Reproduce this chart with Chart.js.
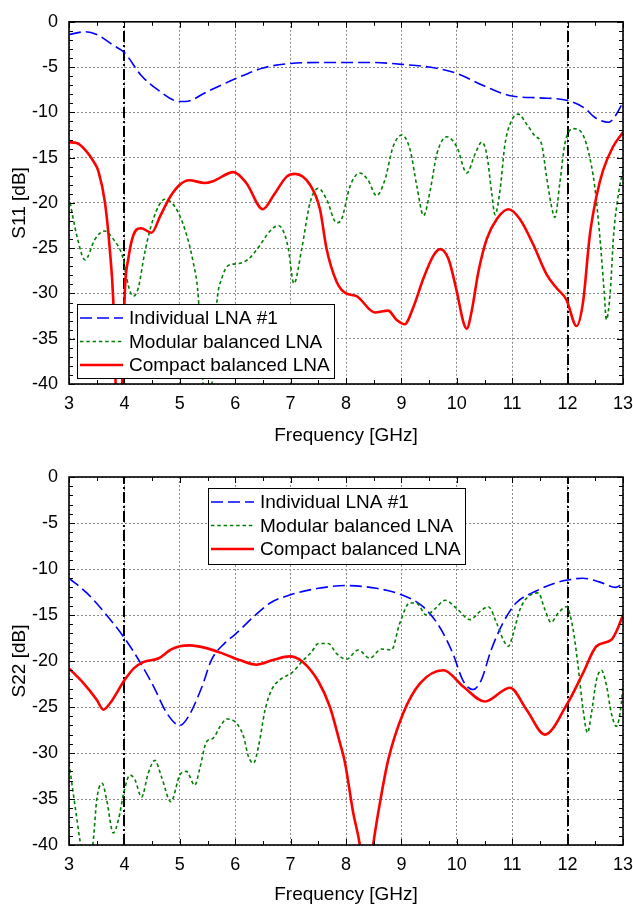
<!DOCTYPE html>
<html>
<head>
<meta charset="utf-8">
<script src="https://cdn.jsdelivr.net/npm/chart.js@4.4.1/dist/chart.umd.min.js"></script>
<style>
  html, body { margin: 0; padding: 0; background: #fff; }
  canvas { display: block; }
</style>
</head>
<body>
<canvas id="s11Chart" width="633" height="453"></canvas>
<canvas id="s22Chart" width="633" height="454"></canvas>
<script>
// axis ticks and band markers
var xTicks = [3, 4, 5, 6, 7, 8, 9, 10, 11, 12, 13];
var yTicks = [-40, -35, -30, -25, -20, -15, -10, -5, 0];
var bandEdges = [4, 12];
var seriesNames = ['Individual LNA #1', 'Modular balanced LNA', 'Compact balanced LNA'];

// S11 - individual LNA
var s11IndFreq = [3, 3.3, 3.5, 3.8, 4, 4.3, 4.6, 5, 5.1, 5.5, 6, 6.5, 7, 7.5, 8, 8.5, 9, 9.5, 10, 10.5, 11, 11.5, 12, 12.3, 12.5, 12.74, 12.85, 13];
var s11IndDb = [-1.4, -1.1, -1.4, -2.6, -3.4, -5.9, -7.5, -8.8, -8.8, -7.7, -6.3, -5.1, -4.6, -4.5, -4.5, -4.5, -4.7, -5.0, -5.7, -7.1, -8.2, -8.4, -8.7, -9.5, -10.6, -11.1, -10.5, -8.9];

// S11 - modular balanced LNA
var s11ModFreq = [3.0, 3.14, 3.29, 3.47, 3.64, 3.80, 3.98, 4.07, 4.16, 4.25, 4.37, 4.52, 4.73, 4.91, 5.09, 5.24, 5.33, 5.42, 5.5, 5.58, 5.67, 5.76, 5.88, 6.06, 6.24, 6.42, 6.63, 6.78, 6.90, 6.96, 7.06, 7.2, 7.35, 7.50, 7.65, 7.83, 7.92, 8.07, 8.25, 8.40, 8.55, 8.70, 8.85, 9.01, 9.16, 9.28, 9.40, 9.52, 9.64, 9.82, 10.0, 10.18, 10.33, 10.45, 10.54, 10.63, 10.69, 10.78, 10.87, 10.99, 11.11, 11.26, 11.41, 11.53, 11.62, 11.71, 11.77, 11.86, 11.95, 12.10, 12.25, 12.37, 12.49, 12.58, 12.66, 12.70, 12.77, 12.83, 12.92, 13.0];
var s11ModDb = [-19.3, -23.6, -26.3, -24.0, -23.1, -24.0, -26.2, -29.1, -30.3, -29.4, -25.4, -21.8, -19.6, -20.4, -22.9, -26.5, -30.1, -40, -43, -40, -30.9, -28.3, -26.9, -26.7, -26.2, -24.9, -23.1, -22.5, -23.6, -25.1, -28.9, -25.1, -20.0, -18.4, -19.6, -22.2, -21.8, -18.2, -16.7, -17.5, -19.2, -17.5, -13.8, -12.5, -14.2, -18.2, -21.4, -18.6, -14.6, -12.7, -13.8, -16.7, -14.6, -13.3, -14.6, -18.9, -21.3, -18.6, -13.5, -10.9, -10.2, -11.3, -12.6, -13.5, -17.1, -20.4, -21.6, -17.8, -13.5, -11.8, -12.2, -14.2, -18.2, -23.6, -29.8, -32.9, -29.8, -23.6, -18.9, -16.4];

// S11 - compact balanced LNA
var s11CmpFreq = [3, 3.15, 3.3, 3.45, 3.53, 3.65, 3.74, 3.80, 3.84, 3.9, 3.96, 4.01, 4.07, 4.16, 4.3, 4.49, 4.65, 4.83, 5.0, 5.17, 5.45, 5.6, 5.97, 6.2, 6.5, 6.7, 6.93, 7.08, 7.35, 7.53, 7.65, 7.83, 8.0, 8.19, 8.52, 8.76, 8.91, 9.06, 9.21, 9.4, 9.58, 9.7, 9.85, 10.0, 10.12, 10.18, 10.27, 10.39, 10.54, 10.72, 10.93, 11.14, 11.38, 11.62, 11.8, 11.98, 12.16, 12.28, 12.4, 12.52, 12.64, 12.82, 13];
var s11CmpDb = [-13.3, -13.4, -14.2, -15.5, -16.5, -20.0, -25.4, -30.9, -39.6, -47, -40, -29.5, -26.2, -23.6, -22.8, -23.3, -21.4, -19.3, -18.0, -17.5, -17.8, -17.6, -16.6, -17.8, -20.7, -19.1, -17.1, -16.8, -18.0, -20.7, -25.1, -28.7, -30.0, -30.3, -32.1, -31.9, -32.9, -33.4, -31.6, -28.3, -25.8, -25.1, -26.2, -29.8, -33.2, -33.9, -31.9, -27.6, -24.0, -21.8, -20.7, -21.8, -24.6, -27.9, -29.4, -30.7, -33.6, -30.9, -23.6, -19.3, -16.4, -13.8, -12.2];

// S22 - individual LNA
var s22IndFreq = [3, 3.32, 3.65, 4, 4.29, 4.53, 4.77, 5.0, 5.15, 5.4, 5.57, 5.82, 6.0, 6.33, 6.63, 7, 7.5, 8, 8.55, 9.0, 9.39, 9.69, 9.93, 10.11, 10.29, 10.44, 10.62, 10.83, 11.07, 11.43, 11.79, 12.0, 12.27, 12.57, 12.87, 13];
var s22IndDb = [-11.0, -12.6, -14.8, -17.5, -20.2, -22.8, -25.7, -27.0, -26.1, -22.8, -19.9, -18.0, -17.1, -15.2, -13.7, -12.8, -12.1, -11.8, -12.1, -12.8, -14.1, -16.3, -19.2, -22.1, -23.1, -22.1, -18.8, -15.9, -13.7, -12.4, -11.5, -11.2, -11.0, -11.4, -12.0, -11.6];

// S22 - modular balanced LNA
var s22ModFreq = [3.0, 3.11, 3.20, 3.32, 3.44, 3.50, 3.60, 3.68, 3.80, 3.89, 4.0, 4.1, 4.19, 4.31, 4.43, 4.55, 4.67, 4.84, 5.0, 5.12, 5.27, 5.36, 5.48, 5.60, 5.73, 5.85, 6.03, 6.15, 6.24, 6.33, 6.42, 6.54, 6.66, 6.84, 7.02, 7.2, 7.38, 7.5, 7.68, 7.83, 8.01, 8.22, 8.43, 8.64, 8.82, 8.97, 9.15, 9.27, 9.45, 9.61, 9.79, 10.0, 10.24, 10.42, 10.57, 10.72, 10.84, 10.93, 11.02, 11.14, 11.29, 11.47, 11.59, 11.70, 11.83, 11.98, 12.10, 12.19, 12.28, 12.36, 12.43, 12.52, 12.61, 12.70, 12.79, 12.88, 12.97, 13.0];
var s22ModDb = [-31.1, -35.8, -39.6, -44, -39.4, -35.1, -33.3, -35.1, -38.7, -37.3, -34.0, -32.4, -32.9, -34.8, -32.2, -30.8, -32.6, -35.3, -32.4, -32.0, -33.5, -31.7, -28.8, -28.4, -27.1, -26.3, -26.8, -28.2, -30.4, -31.1, -29.3, -25.3, -23.1, -21.9, -21.3, -20.1, -19.0, -18.1, -18.1, -19.2, -19.8, -18.8, -19.7, -18.7, -18.8, -15.9, -13.7, -13.7, -15.0, -14.3, -13.4, -14.3, -15.5, -14.6, -14.1, -15.9, -17.7, -18.4, -17.0, -14.4, -13.0, -12.6, -14.4, -15.8, -14.8, -14.1, -16.6, -20.6, -25.3, -27.8, -25.7, -22.1, -21.0, -22.6, -25.7, -27.1, -24.6, -22.5];

// S22 - compact balanced LNA
var s22CmpFreq = [3, 3.26, 3.5, 3.62, 3.74, 4, 4.17, 4.35, 4.62, 4.83, 5.0, 5.18, 5.48, 5.78, 6.08, 6.38, 6.68, 6.98, 7.22, 7.5, 7.71, 7.89, 7.98, 8.13, 8.25, 8.37, 8.49, 8.61, 8.76, 9.03, 9.34, 9.76, 10.12, 10.51, 10.96, 11.26, 11.59, 11.98, 12.28, 12.52, 12.79, 12.88, 13];
var s22CmpDb = [-20.8, -22.4, -24.2, -25.3, -24.6, -22.1, -20.8, -20.1, -19.7, -18.8, -18.4, -18.3, -18.6, -19.2, -19.9, -20.4, -19.9, -19.5, -20.1, -22.2, -25.0, -28.9, -31.0, -36.5, -40, -46, -40, -35.5, -30.8, -25.7, -22.4, -21.0, -22.8, -24.4, -22.9, -25.3, -28.0, -24.8, -21.3, -18.4, -17.7, -16.8, -15.0];

var FONT = '"Liberation Sans", Arial, sans-serif';

function pairs(xs, ys) {
    return xs.map(function (x, i) { return { x: x, y: ys[i] }; });
}

var paperPlugin = {
    id: 'paper',
    beforeDatasetsDraw: function (chart) {
        var ctx = chart.ctx, a = chart.chartArea, xs = chart.scales.x;
        ctx.save();
        ctx.beginPath();
        ctx.rect(a.left, a.top, a.right - a.left, a.bottom - a.top);
        ctx.clip();
        ctx.strokeStyle = '#000';
        ctx.lineWidth = 2;
        ctx.setLineDash([11, 3, 2, 3]);
        bandEdges.forEach(function (f) {
            var px = Math.round(xs.getPixelForValue(f));
            ctx.beginPath();
            ctx.moveTo(px, a.bottom);
            ctx.lineTo(px, a.top);
            ctx.stroke();
        });
        ctx.restore();
    },
    afterDraw: function (chart, args, opts) {
        var ctx = chart.ctx, a = chart.chartArea;
        var xs = chart.scales.x, ys = chart.scales.y;
        ctx.save();
        // inward ticks
        ctx.strokeStyle = '#000';
        ctx.lineWidth = 1;
        ctx.setLineDash([]);
        ctx.beginPath();
        for (var f = xs.min; f <= xs.max + 1e-9; f += 0.5) {
            var px = Math.round(xs.getPixelForValue(f)) + 0.5;
            var len = Number.isInteger(f) ? 6 : 4;
            ctx.moveTo(px, a.bottom); ctx.lineTo(px, a.bottom - len);
            ctx.moveTo(px, a.top); ctx.lineTo(px, a.top + len);
        }
        for (var v = ys.min; v <= ys.max + 1e-9; v += 1) {
            var py = Math.round(ys.getPixelForValue(v)) + 0.5;
            var l2 = (v % 5 === 0) ? 6 : 4;
            ctx.moveTo(a.left, py); ctx.lineTo(a.left + l2, py);
            ctx.moveTo(a.right, py); ctx.lineTo(a.right - l2, py);
        }
        ctx.stroke();
        // frame
        ctx.lineWidth = 1.6;
        ctx.strokeRect(a.left, a.top, a.right - a.left, a.bottom - a.top);

        // legend box
        ctx.font = '19px ' + FONT;
        var maxW = 0;
        chart.data.datasets.forEach(function (ds) {
            maxW = Math.max(maxW, ctx.measureText(ds.label).width);
        });
        var w = Math.round(52 + maxW + 4), h = opts.h;
        ctx.fillStyle = '#fff';
        ctx.fillRect(opts.x, opts.y, w, h);
        ctx.lineWidth = 1;
        ctx.strokeStyle = '#000';
        ctx.strokeRect(opts.x + 0.5, opts.y + 0.5, w, h);
        chart.data.datasets.forEach(function (ds, i) {
            var cy = opts.y + 14 + i * 23.5;
            ctx.setLineDash(ds.borderDash || []);
            ctx.strokeStyle = ds.borderColor;
            ctx.lineWidth = ds.borderWidth;
            ctx.beginPath();
            ctx.moveTo(opts.x + 3, cy);
            ctx.lineTo(opts.x + 46, cy);
            ctx.stroke();
            ctx.setLineDash([]);
            ctx.fillStyle = '#000';
            ctx.textBaseline = 'middle';
            ctx.textAlign = 'left';
            ctx.fillText(ds.label, opts.x + 52, cy + 1);
        });
        ctx.restore();
    }
};

function makeChart(id, yTitle, ind, mod, cmp, cfg) {
    return new Chart(document.getElementById(id), {
        type: 'line',
        data: {
            datasets: [
                {
                    label: seriesNames[0], data: ind, order: 2,
                    borderColor: '#0000ff', borderWidth: 1.6, borderDash: [12, 5]
                },
                {
                    label: seriesNames[1], data: mod, order: 1,
                    borderColor: '#008000', borderWidth: 1.6, borderDash: [3.5, 2.8]
                },
                {
                    label: seriesNames[2], data: cmp, order: 0,
                    borderColor: '#ff0000', borderWidth: 2.6
                }
            ]
        },
        options: {
            responsive: false,
            animation: false,
            devicePixelRatio: 1,
            layout: { padding: { top: cfg.top, right: 10, left: 0, bottom: 0 } },
            elements: {
                point: { radius: 0 },
                line: { cubicInterpolationMode: 'monotone', fill: false }
            },
            plugins: {
                legend: { display: false },
                tooltip: { enabled: false },
                paper: cfg.legend
            },
            scales: {
                x: {
                    type: 'linear', min: 3, max: 13,
                    afterBuildTicks: function (s) { s.ticks = xTicks.map(function (v) { return { value: v }; }); },
                    afterFit: function (s) { s.height = cfg.xh; s.paddingLeft = 0; s.paddingRight = 0; },
                    grid: { color: '#8a8a8a', lineWidth: 1, drawTicks: false },
                    border: { display: false, dash: [2, 2] },
                    ticks: { color: '#000', font: { size: 18, family: FONT }, padding: 9, autoSkip: false, maxRotation: 0 },
                    title: { display: true, text: 'Frequency [GHz]', color: '#000', font: { size: 19, family: FONT }, padding: { top: 0, bottom: cfg.tb } }
                },
                y: {
                    type: 'linear', min: -40, max: 0,
                    afterBuildTicks: function (s) { s.ticks = yTicks.map(function (v) { return { value: v }; }); },
                    afterFit: function (s) { s.width = 69; },
                    grid: { color: '#8a8a8a', lineWidth: 1, drawTicks: false },
                    border: { display: false, dash: [2, 2] },
                    ticks: { color: '#000', font: { size: 18, family: FONT }, padding: 11, autoSkip: false },
                    title: { display: true, text: yTitle, color: '#000', font: { size: 19, family: FONT }, padding: { top: 8, bottom: 0 } }
                }
            }
        },
        plugins: [paperPlugin]
    });
}

makeChart('s11Chart', 'S11 [dB]',
    pairs(s11IndFreq, s11IndDb), pairs(s11ModFreq, s11ModDb), pairs(s11CmpFreq, s11CmpDb),
    { top: 16, xh: 69, tb: 6, legend: { x: 77, y: 304, h: 74 } });

makeChart('s22Chart', 'S22 [dB]',
    pairs(s22IndFreq, s22IndDb), pairs(s22ModFreq, s22ModDb), pairs(s22CmpFreq, s22CmpDb),
    { top: 24, xh: 62, tb: 1, legend: { x: 208, y: 35, h: 76 } });
</script>
</body>
</html>
